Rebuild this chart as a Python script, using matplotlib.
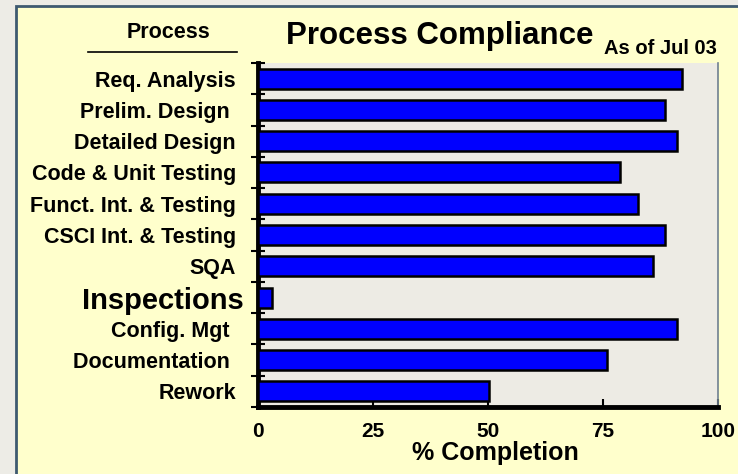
import matplotlib.pyplot as plt
from matplotlib.patches import Rectangle
from matplotlib.lines import Line2D
from matplotlib.transforms import ScaledTranslation

plt.rcParams['font.family'] = ['Liberation Sans', 'DejaVu Sans']
plt.rcParams['font.weight'] = 'bold'

# dados
processos = ['Req. Analysis', 'Prelim. Design ', 'Detailed Design', 'Code & Unit Testing',
             'Funct. Int. & Testing', 'CSCI Int. & Testing', 'SQA', 'Inspections',
             'Config. Mgt ', 'Documentation ', 'Rework']
completude = [92.2, 88.5, 91.1, 78.7, 82.6, 88.5, 85.9, 3.0, 91.1, 75.9, 50.2]
x_ticks = [0, 25, 50, 75, 100]

W, H = 738, 474
fig = plt.figure(figsize=(W / 100, H / 100), dpi=100)
fig.patch.set_facecolor('#EDECE6')

# painel amarelo com borda
painel = Rectangle((16 / W, -0.05), 1.0, 1 - 6 / H + 0.05, transform=fig.transFigure,
                   facecolor='#FFFFCC', edgecolor='#3E5A70', linewidth=2, zorder=-10)
fig.patches.append(painel)

ax = fig.add_axes([258 / W, 1 - 407 / H, 460 / W, 344 / H])
ax.set_facecolor('#EDEBE4')

y = list(range(len(processos)))
ax.barh(y, completude, height=0.64, color='#0000FF', edgecolor='black', linewidth=1.8, zorder=3)

ax.set_xlim(0, 100)
ax.set_ylim(len(processos) - 0.5, -0.5)

ax.set_xticks(x_ticks)
ax.set_xticklabels([str(t) for t in x_ticks], fontsize=15, fontweight='bold')
ax.tick_params(axis='x', direction='in', length=6, width=1.5, pad=11)

ax.set_yticks([i - 0.5 for i in range(len(processos) + 1)])
ax.set_yticklabels([])
ax.set_yticks(y, minor=True)
ax.set_yticklabels(processos, minor=True)
ax.tick_params(axis='y', which='major', direction='inout', length=10, width=1.5)
ax.tick_params(axis='y', which='minor', length=0, pad=16)
for lbl in ax.get_yticklabels(minor=True):
    lbl.set_fontweight('bold')
    if lbl.get_text() == 'Inspections':
        lbl.set_fontsize(21)
        lbl.set_transform(lbl.get_transform() + ScaledTranslation(6 / 72, 0, fig.dpi_scale_trans))
    else:
        lbl.set_fontsize(15.5)

for lado in ['left', 'bottom']:
    ax.spines[lado].set_linewidth(3.5)
    ax.spines[lado].set_color('black')
ax.spines['top'].set_visible(False)
ax.spines['right'].set_color('#6F8090')
ax.spines['right'].set_linewidth(1.2)

ax.set_xlabel('% Completion', fontsize=18, fontweight='bold')
ax.xaxis.set_label_coords(0.517, -0.1)

# títulos
fig.text(440 / W, 1 - 36 / H, 'Process Compliance', fontsize=22.5, fontweight='bold',
         ha='center', va='center')
fig.text(660 / W, 1 - 48 / H, 'As of Jul 03', fontsize=14.5, fontweight='bold',
         ha='center', va='center')
fig.text(168 / W, 1 - 32 / H, 'Process', fontsize=15.5, fontweight='bold',
         ha='center', va='center')
fig.add_artist(Line2D([88 / W, 237 / W], [1 - 52 / H, 1 - 52 / H], color='black',
                      linewidth=1.2, transform=fig.transFigure))

fig.savefig('out.png', dpi=100, facecolor=fig.get_facecolor())
